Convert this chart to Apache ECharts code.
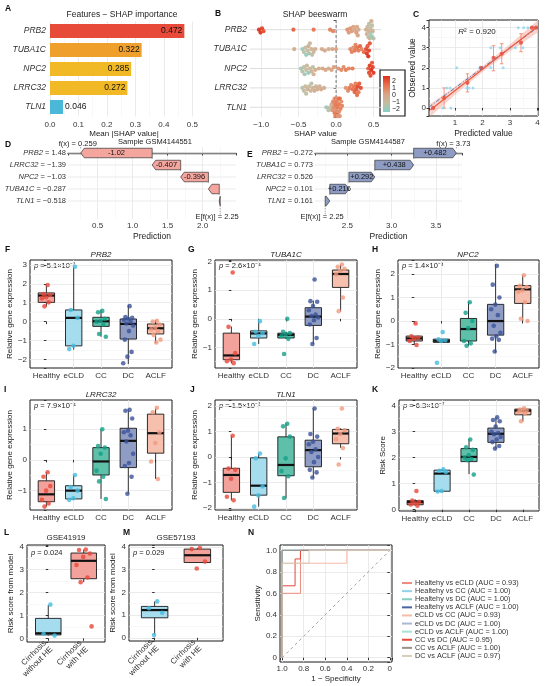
<!DOCTYPE html>
<html>
<head>
<meta charset="utf-8">
<script src="https://cdn.jsdelivr.net/npm/echarts@6/dist/echarts.min.js"></script>
<style>
  html, body { margin: 0; padding: 0; background: #fff; }
  #main { width: 550px; height: 686px; }
</style>
</head>
<body>
<div id="main"></div>
<script>
var FONT = 'Liberation Sans, Arial, sans-serif';

// ---- A: mean |SHAP|
var featureNames = ['PRB2', 'TUBA1C', 'NPC2', 'LRRC32', 'TLN1'];
var meanShap = [0.472, 0.322, 0.285, 0.272, 0.046];
var barColors = ['#e84a39', '#efa02c', '#f1b926', '#f1b926', '#4ab8d6'];

// ---- B: beeswarm (shap value, scaled feature value) per feature row
var swarmShap = [
  [-1.03, -1.01, -0.99, -0.97, -0.57, -0.30, -0.08, -0.04, 0.15, 0.17, 0.19, 0.21, 0.23, 0.25, 0.27, 0.28, 0.29, 0.30, 0.40, 0.41, 0.42, 0.43, 0.44, 0.44, 0.45, 0.46, 0.46, 0.47, 0.48, 0.48, 0.49, 0.50],
  [-0.56, -0.45, -0.43, -0.41, -0.40, -0.38, -0.37, -0.36, -0.35, -0.33, -0.32, -0.30, -0.28, -0.19, -0.15, -0.10, -0.05, 0.00, 0.19, 0.21, 0.23, 0.25, 0.26, 0.28, 0.30, 0.32, 0.34, 0.37, 0.40, 0.41, 0.42, 0.43, 0.44, 0.45],
  [-0.47, -0.45, -0.43, -0.42, -0.40, -0.39, -0.37, -0.35, -0.33, -0.31, -0.30, -0.28, -0.23, -0.18, -0.14, -0.10, -0.06, -0.03, 0.03, 0.07, 0.10, 0.13, 0.17, 0.22, 0.43, 0.44, 0.45, 0.46, 0.47, 0.48, 0.49, 0.50],
  [-0.45, -0.43, -0.41, -0.40, -0.38, -0.36, -0.34, -0.33, -0.31, -0.29, -0.27, -0.25, -0.22, -0.20, -0.16, 0.13, 0.16, 0.18, 0.20, 0.22, 0.24, 0.25, 0.26, 0.27, 0.28, 0.29, 0.30, 0.31, 0.33],
  [-0.13, -0.10, -0.08, -0.06, -0.05, -0.04, -0.03, -0.02, -0.02, -0.01, 0.00, 0.00, 0.01, 0.01, 0.02, 0.02, 0.03, 0.03, 0.04, 0.04, 0.05, 0.05, 0.06, 0.07, 0.08, -0.01, 0.00, 0.02]
];
var swarmFeat = [
  [2.2, 1.9, 1.7, 1.5, 1.2, 0.9, 0.7, 0.6, 0.4, 0.2, 0.3, 0.1, 0.0, -0.1, 0.2, -0.2, 0.0, -0.3, -0.4, -0.6, -0.8, -1.0, -0.5, -1.2, -0.7, -0.9, -1.5, -0.3, -1.1, -1.8, -0.6, -1.3],
  [-0.3, -1.6, -1.2, -1.0, -1.8, -0.9, -0.6, -1.4, -0.8, -0.5, -1.1, -0.7, -0.4, -0.3, -0.2, -0.4, -0.1, 0.0, 0.5, 0.7, 0.4, 0.9, 0.6, 1.0, 0.8, 1.2, 0.6, 1.1, 1.6, 1.8, 1.4, 2.0, 1.7, 1.5],
  [-1.7, -1.2, -0.9, -1.4, -1.0, -0.7, -1.8, -0.8, -0.6, -1.1, -0.5, -0.4, -0.3, -0.2, -0.1, -0.3, 0.0, 0.1, 0.3, 0.5, 0.4, 0.7, 0.6, 0.8, 1.3, 1.6, 1.8, 1.5, 2.0, 1.4, 1.7, 1.9],
  [-1.3, -1.0, -0.8, -1.1, -0.6, -0.9, -0.7, -1.2, -0.5, -0.4, -0.6, -0.3, -0.5, -0.2, -0.4, 0.3, 0.5, 0.8, 0.6, 1.0, 0.9, 1.2, 0.7, 1.4, 1.1, 1.6, 0.8, 1.3, 1.5],
  [-1.6, -1.3, -1.0, -0.4, 0.3, 0.6, 0.5, 0.8, 0.2, 0.9, 0.4, 1.0, 0.7, 0.3, 0.8, 1.2, 0.6, 0.1, 0.9, 0.5, 1.1, 0.3, 0.7, 0.4, 0.6, 0.5, 0.8, 0.2]
];
var swarmTicks = ['2', '1', '0', '−1', '−2'];

// ---- C: observed vs predicted
var cPredX = [0.2, 0.55, 0.85, 0.7, 0.82, 1.42, 1.5, 1.65, 1.06, 1.9, 2.0, 2.3, 2.75, 2.3, 2.64, 3.0, 3.2, 3.47, 3.3, 3.5, 3.65, 3.9];
var cObsY  = [0, 0, 0, 1, 1, 1, 1, 1, 2, 2, 2, 2, 2, 3, 3, 3, 3, 3, 4, 4, 4, 4];
var cBinX  = [0.2, 0.6, 1.45, 1.95, 2.4, 2.7, 3.4, 3.8, 3.95];
var cBinY  = [0, 0.5, 1.25, 2.0, 2.5, 2.7, 3.25, 4.0, 4.0];
var cBinLo = [0, 0, 0.8, 2.0, 1.85, 2.2, 2.8, 4.0, 4.0];
var cBinHi = [0, 1.0, 1.7, 2.0, 3.1, 3.2, 3.7, 4.0, 4.0];
var cFitX  = [0.1, 1.0, 2.0, 3.0, 4.0];
var cFitY  = [-0.1, 0.87, 1.93, 3.0, 4.05];
var cBandLo = [-0.42, 0.66, 1.79, 2.83, 3.74];
var cBandHi = [0.2, 1.07, 2.08, 3.17, 4.36];
var cDiag  = [0.05, 4.02];

// ---- D / E: waterfall
var dGenes = ['PRB2', 'LRRC32', 'NPC2', 'TUBA1C', 'TLN1'];
var dFeat = ['1.48', '−1.39', '−1.03', '−0.287', '−0.518'];
var dContrib = [-1.02, -0.407, -0.396, -0.155, -0.013];
var eGenes = ['PRB2', 'TUBA1C', 'LRRC32', 'NPC2', 'TLN1'];
var eFeat = ['−0.272', '0.773', '0.526', '0.101', '0.161'];
var eContrib = [0.482, 0.438, 0.292, 0.216, 0.052];
var baseValue = 2.25;

// ---- F-K: box plots (stats = [min, Q1, median, Q3, max])
var groups = ['Healthy', 'eCLD', 'CC', 'DC', 'ACLF'];
var groupFill = ['#f3a29b', '#a5dcee', '#5fc0aa', '#8f9dc5', '#f6bfae'];
var groupDot = ['#e8473a', '#45bde0', '#12a088', '#3a5397', '#f39b7f'];

var prb2Stats = [[0.8, 1.02, 1.38, 1.52, 1.94], [-1.48, -1.28, 0.2, 0.62, 2.9], [-0.8, -0.25, 0.02, 0.23, 0.63], [-2.24, -0.92, -0.12, 0.14, 0.88], [-1.13, -0.65, -0.35, -0.12, 0.09]];
var prb2Pts = [[1.94, 1.46, 1.41, 1.29, 1.23, 1.02, 0.81], [2.9, 0.62, 0.2, -1.28, -1.45], [0.57, 0.5, 0.15, 0.05, 0.0, -0.15, -0.65, -0.8], [0.82, 0.25, 0.2, 0.15, 0.1, 0.0, -0.1, -0.2, -0.5, -0.95, -1.6, -1.85, -2.2], [0.05, 0.0, -0.15, -0.3, -0.4, -0.5, -0.7, -0.95, -1.1]];

var tuba1cStats = [[-1.55, -1.43, -1.28, -0.5, -0.27], [-0.88, -0.67, -0.51, -0.42, -0.09], [-0.7, -0.67, -0.56, -0.5, -0.45], [-0.88, -0.23, 0.08, 0.39, 0.64], [0.25, 1.1, 1.57, 1.71, 1.9]];
var tuba1cPts = [[1.62, -0.28, -1.2, -1.42, -1.48, -1.55], [-0.08, -0.45, -0.5, -0.6, -0.88], [0.0, -0.45, -0.5, -0.55, -0.6, -0.7, -1.23], [1.38, 0.62, 0.6, 0.45, 0.3, 0.15, 0.1, 0.05, -0.05, -0.2, -0.67, -0.88], [1.9, 1.82, 1.75, 1.68, 1.55, 0.75, 0.27]];

var npc2Stats = [[-1.02, -0.85, -0.74, -0.64, -0.64], [-0.91, -0.91, -0.84, -0.77, -0.77], [-1.05, -0.85, -0.34, 0.11, 0.82], [-1.35, -0.6, 0.0, 0.71, 2.42], [0.0, 0.75, 1.35, 1.51, 1.96]];
var npc2Pts = [[-0.1, -0.65, -0.7, -0.75, -0.85, -1.02], [-0.47, -0.78, -0.82, -0.85, -1.78], [0.8, 0.35, 0.0, -0.3, -0.85, -0.95, -1.05], [2.35, 1.55, 1.0, 0.7, 0.5, 0.25, -0.2, -0.5, -0.65, -0.75, -0.8, -1.3], [1.95, 1.5, 1.45, 1.3, 1.25, 0.8, 0.1, 0.0]];

var lrrc32Stats = [[-1.52, -1.36, -1.12, -0.68, -0.4], [-1.3, -1.27, -1.0, -0.84, -0.49], [-1.27, -0.49, -0.05, 0.4, 1.0], [-1.09, -0.25, 0.62, 1.03, 1.63], [-0.62, 0.22, 0.87, 1.49, 1.68]];
var lrrc32Pts = [[-0.4, -0.55, -0.85, -1.0, -1.3, -1.42, -1.52], [-0.49, -0.88, -1.0, -1.25, -1.3], [1.0, 0.45, 0.4, 0.2, -0.35, -0.55, -0.7, -1.27], [1.63, 1.6, 1.35, 0.95, 0.9, 0.8, 0.6, 0.2, -0.1, -0.2, -0.55, -1.1], [1.7, 1.55, 0.9, 0.55, -0.05, -0.62]];

var tln1Stats = [[-1.69, -1.38, -0.7, -0.44, 0.83], [-1.94, -1.49, -1.12, -0.03, 0.14], [-1.61, -0.73, -0.31, 0.79, 1.32], [-0.81, -0.38, 0.27, 0.66, 1.9], [0.36, 0.52, 0.92, 1.08, 1.12]];
var tln1Pts = [[0.83, -0.45, -0.5, -0.85, -1.55, -1.69], [0.14, -0.05, -1.15, -1.5, -1.94], [1.3, 1.2, 0.8, -0.05, -0.55, -0.75, -1.6], [1.9, 0.9, 0.8, 0.6, 0.5, 0.3, 0.2, 0.0, -0.2, -0.5, -0.6, -0.8], [1.9, 1.1, 1.05, 0.9, 0.7, 0.35, -0.29]];

var riskStats = [[0.15, 0.19, 0.29, 0.35, 0.4], [0.7, 0.71, 1.39, 1.52, 1.55], [1.37, 1.85, 2.03, 2.35, 2.72], [2.34, 2.59, 2.92, 3.14, 3.56], [3.39, 3.65, 3.81, 3.87, 3.92]];
var riskPts = [[0.72, 0.35, 0.3, 0.25, 0.2, 0.15], [1.55, 1.5, 1.45, 0.72, 0.7], [2.7, 2.4, 2.3, 2.1, 2.0, 1.95, 1.9, 1.35], [3.55, 3.45, 3.4, 3.2, 3.0, 2.95, 2.9, 2.8, 2.7, 2.6, 2.45, 2.35], [3.9, 3.85, 3.82, 3.8, 3.75, 3.7, 3.4]];

// ---- L / M: external cohorts
var heGroups = ['Cirrhosis\nwithout HE', 'Cirrhosis\nwith HE'];
var heFill = ['#a5dcee', '#f3a29b'];
var heDot = ['#45bde0', '#e8473a'];
var gse41919Stats = [[0.12, 0.15, 0.22, 0.87, 1.45], [2.45, 2.6, 3.38, 3.72, 3.87]];
var gse41919Pts = [[1.47, 0.2, 0.12], [3.87, 3.85, 3.7, 3.55, 3.2, 2.65, 2.45, 0.52]];
var gse57193Stats = [[0.15, 0.88, 1.22, 1.38, 1.6], [3.31, 3.31, 3.63, 3.9, 3.95]];
var gse57193Pts = [[1.6, 1.3, 1.1, 0.12], [3.95, 3.9, 3.35, 3.05]];

// ---- N: ROC curves, [specificity, sensitivity]
var rocNames = ['Healtehy vs eCLD (AUC = 0.93)', 'Healtehy vs CC (AUC = 1.00)', 'Healtehy vs DC (AUC = 1.00)', 'Healtehy vs ACLF (AUC = 1.00)',
  'eCLD vs CC (AUC = 0.93)', 'eCLD vs DC (AUC = 1.00)', 'eCLD vs ACLF (AUC = 1.00)', 'CC vs DC (AUC = 0.95)', 'CC vs ACLF (AUC = 1.00)', 'DC vs ACLF (AUC = 0.97)'];
var rocColors = ['#ee8a7c', '#8fd3ea', '#86cfc0', '#4b64a8', '#f6bba9', '#a9b7d8', '#a7e2d2', '#e8473a', '#9b8f87', '#d9ccb8'];
var rocPerfect = [[1, 0], [1, 1], [0, 1]];
var rocHvsE = [[1, 0], [1, 0.6], [0.83, 0.6], [0.83, 1], [0, 1]];
var rocEvsC = [[1, 0], [1, 0.88], [0.4, 0.88], [0.4, 1], [0, 1]];
var rocCvsD = [[1, 0], [1, 0.67], [0.88, 0.67], [0.88, 0.92], [0.83, 0.92], [0.83, 1], [0, 1]];
var rocDvsA = [[1, 0], [1, 0.88], [0.75, 0.88], [0.75, 1], [0, 1]];
var rocCurves = [rocHvsE, rocPerfect, rocPerfect, rocPerfect, rocEvsC, rocPerfect, rocPerfect, rocCvsD, rocPerfect, rocDvsA];

// ================= builders =================
var grids = [], xAxes = [], yAxes = [], series = [], graphics = [];
var tickLab = { fontSize: 8, color: '#333', fontFamily: FONT };
var gridLine = { color: '#e6e6e6', width: 0.8 };
var minorLine = { color: '#f3f3f3', width: 0.6 };

function fmtNum(v, d) {
  var s = Math.abs(v).toFixed(d);
  return (v < -1e-9 && Number(s) !== 0 ? '−' : '') + s;
}
function stepFmt(step, d) {
  return function (v) {
    var r = v / step;
    if (Math.abs(r - Math.round(r)) > 1e-6) return '';
    return fmtNum(v, d);
  };
}
function addGrid(left, top, width, height, framed) {
  grids.push({ left: left, top: top, width: width, height: height, show: !!framed,
    borderColor: '#1a1a1a', borderWidth: 1, backgroundColor: framed ? '#fff' : 'transparent' });
  return grids.length - 1;
}
function txt(x, y, s, o) {
  o = o || {};
  graphics.push({ type: 'text', x: x, y: y, silent: true, style: {
    text: s, fill: o.color || '#222', fontSize: o.size || 8, fontFamily: FONT,
    fontWeight: o.bold ? 'bold' : 'normal', fontStyle: o.italic ? 'italic' : 'normal',
    align: o.align || 'center', verticalAlign: 'middle', rich: o.rich } });
}
var richP = { i: { fontStyle: 'italic', fontSize: 7.5, fontFamily: FONT, fill: '#222' } };

// ---------- A ----------
var gA = addGrid(50, 21.5, 148, 95, false);
xAxes.push({ gridIndex: gA, type: 'value', min: 0, max: 0.52, minInterval: 0.1, maxInterval: 0.1,
  axisLine: { show: false }, axisTick: { show: false },
  axisLabel: Object.assign({ margin: 4, formatter: stepFmt(0.1, 1), showMaxLabel: false }, tickLab),
  splitLine: { lineStyle: gridLine, showMaxLine: false }, minorTick: { splitNumber: 2 },
  minorSplitLine: { show: true, lineStyle: minorLine },
  name: 'Mean |SHAP value|', nameLocation: 'middle', nameGap: 11, nameTextStyle: { fontSize: 8, color: '#222' } });
yAxes.push({ gridIndex: gA, type: 'category', data: featureNames, inverse: true,
  axisLine: { show: false }, axisTick: { show: false },
  axisLabel: { fontSize: 8.5, color: '#333', fontStyle: 'italic', margin: 4 }, splitLine: { show: false } });
series.push({ type: 'bar', xAxisIndex: xAxes.length - 1, yAxisIndex: yAxes.length - 1, barWidth: 14,
  data: meanShap.map(function (v, i) {
    return { value: v, itemStyle: { color: barColors[i] },
      label: { show: true, position: v > 0.1 ? 'insideRight' : 'right', distance: 2, fontSize: 8.5, color: '#111',
        formatter: function (p) { return p.value.toFixed(3); } } };
  }) });

// ---------- B ----------
var gB = addGrid(250, 20, 131, 97, false);
var bPx = 131 / 1.75, bRow = 97 / 5;
xAxes.push({ gridIndex: gB, type: 'value', min: -1.15, max: 0.6, minInterval: 0.5, maxInterval: 0.5,
  axisLine: { show: false }, axisTick: { show: false },
  axisLabel: Object.assign({ margin: 4, formatter: stepFmt(0.5, 1) }, tickLab),
  splitLine: { lineStyle: gridLine, showMinLine: false, showMaxLine: false }, minorTick: { splitNumber: 2 },
  minorSplitLine: { show: true, lineStyle: minorLine },
  name: 'SHAP value', nameLocation: 'middle', nameGap: 12, nameTextStyle: { fontSize: 8, color: '#222' } });
yAxes.push({ gridIndex: gB, type: 'value', min: -0.5, max: 4.5, inverse: true, minInterval: 1, maxInterval: 1,
  axisLine: { show: false }, axisTick: { show: true, length: 2.5, lineStyle: { color: '#555' } },
  axisLabel: { fontSize: 8.5, color: '#333', fontStyle: 'italic', margin: 3,
    formatter: function (v) { return (Math.abs(v - Math.round(v)) < 1e-6 && v >= 0 && v <= 4) ? featureNames[Math.round(v)] : ''; } },
  splitLine: { show: false } });
var bx = xAxes.length - 1, by = yAxes.length - 1;
series.push({ type: 'custom', xAxisIndex: bx, yAxisIndex: by, silent: true, data: [0, 1, 2, 3, 4],
  renderItem: function (params, api) {
    var cs = params.coordSys, y = api.coord([0, api.value(0)])[1];
    var ch = [{ type: 'line', shape: { x1: cs.x, y1: y, x2: cs.x + cs.width, y2: y }, style: { stroke: '#d9d9d9', lineWidth: 0.9 } }];
    if (params.dataIndex === 0) {
      var x0 = api.coord([0, 0])[0];
      ch.push({ type: 'line', shape: { x1: x0, y1: cs.y, x2: x0, y2: cs.y + cs.height }, style: { stroke: '#555', lineWidth: 0.8, lineDash: [3, 2] } });
    }
    return { type: 'group', children: ch };
  } });

function swarmOffsets(xs, d) {
  var idx = xs.map(function (v, i) { return i; }).sort(function (a, b) { return xs[a] - xs[b]; });
  var placed = [], off = [];
  idx.forEach(function (i) {
    var x = xs[i] * bPx, best = 0;
    for (var k = 0; k < 40; k++) {
      var o = (k % 2 ? 1 : -1) * Math.ceil(k / 2) * d * 0.45;
      var clash = placed.some(function (p) { var dx = p[0] - x, dy = p[1] - o; return dx * dx + dy * dy < d * d; });
      if (!clash) { best = o; break; }
    }
    placed.push([x, best]); off[i] = best;
  });
  return off;
}
var swarmData = [];
swarmShap.forEach(function (row, r) {
  var off = swarmOffsets(row, 3.2);
  row.forEach(function (v, i) {
    var dy = Math.max(-0.45, Math.min(0.45, off[i] / bRow));
    swarmData.push([v, r + dy, swarmFeat[r][i]]);
  });
});
var swarmSeriesIndex = series.length;
series.push({ type: 'scatter', xAxisIndex: bx, yAxisIndex: by, symbolSize: 4.2, data: swarmData,
  itemStyle: { opacity: 0.95 } });
graphics.push({ type: 'rect', shape: { x: 380, y: 70, width: 25, height: 46 }, style: { fill: '#fff', stroke: '#1a1a1a', lineWidth: 1.2 } });
graphics.push({ type: 'rect', shape: { x: 383, y: 76, width: 7, height: 36 }, style: { fill: {
  type: 'linear', x: 0, y: 0, x2: 0, y2: 1, colorStops: [
    { offset: 0, color: '#de2f1c' }, { offset: 0.25, color: '#e8704a' }, { offset: 0.5, color: '#d9a383' },
    { offset: 0.75, color: '#c4bca2' }, { offset: 1, color: '#86d0c4' }] } } });
swarmTicks.forEach(function (t, i) { txt(392, 80.7 + i * 7.1, t, { size: 7, align: 'left' }); });

// ---------- C ----------
var gC = addGrid(429, 20, 109, 96, true);
xAxes.push({ gridIndex: gC, type: 'value', min: 0.05, max: 4.02, minInterval: 1, maxInterval: 1,
  axisLine: { show: false }, axisTick: { show: true, length: 2.5, lineStyle: { color: '#333' } },
  axisLabel: Object.assign({ margin: 3, formatter: stepFmt(1, 0) }, tickLab),
  splitLine: { lineStyle: gridLine, showMinLine: false, showMaxLine: false }, minorTick: { splitNumber: 2 },
  minorSplitLine: { show: true, lineStyle: minorLine },
  name: 'Predicted value', nameLocation: 'middle', nameGap: 13, nameTextStyle: { fontSize: 8.5, color: '#222' } });
yAxes.push({ gridIndex: gC, type: 'value', min: -0.4, max: 4.38, minInterval: 1, maxInterval: 1,
  axisLine: { show: false }, axisTick: { show: true, length: 2.5, lineStyle: { color: '#333' } },
  axisLabel: Object.assign({ margin: 3, formatter: stepFmt(1, 0) }, tickLab),
  splitLine: { lineStyle: gridLine, showMinLine: false, showMaxLine: false }, minorTick: { splitNumber: 2 },
  minorSplitLine: { show: true, lineStyle: minorLine },
  name: 'Observed value', nameLocation: 'middle', nameGap: 10, nameTextStyle: { fontSize: 8.5, color: '#222' } });
var cx = xAxes.length - 1, cy = yAxes.length - 1;
series.push({ type: 'custom', xAxisIndex: cx, yAxisIndex: cy, silent: true, data: [0],
  renderItem: function (params, api) {
    var pts = [];
    cFitX.forEach(function (x, i) { pts.push(api.coord([x, cBandHi[i]])); });
    for (var i = cFitX.length - 1; i >= 0; i--) pts.push(api.coord([cFitX[i], cBandLo[i]]));
    return { type: 'polygon', shape: { points: pts }, style: { fill: 'rgba(242,140,120,0.38)' } };
  } });
series.push({ type: 'scatter', xAxisIndex: cx, yAxisIndex: cy, symbolSize: 3, itemStyle: { color: '#8fd4ef' },
  data: cPredX.map(function (x, i) { return [x, cObsY[i]]; }) });
series.push({ type: 'line', xAxisIndex: cx, yAxisIndex: cy, symbol: 'none', silent: true,
  lineStyle: { color: '#4a6fb5', width: 0.9, type: [4, 2, 1, 2] }, data: cDiag.map(function (v) { return [v, v]; }) });
series.push({ type: 'line', xAxisIndex: cx, yAxisIndex: cy, symbol: 'none', silent: true,
  lineStyle: { color: '#ea5a40', width: 1.2 }, data: cFitX.map(function (x, i) { return [x, cFitY[i]]; }) });
series.push({ type: 'custom', xAxisIndex: cx, yAxisIndex: cy, silent: true,
  data: cBinX.map(function (x, i) { return [x, cBinLo[i], cBinHi[i]]; }),
  renderItem: function (params, api) {
    var a = api.coord([api.value(0), api.value(1)]), b = api.coord([api.value(0), api.value(2)]);
    var st = { stroke: '#f08a74', lineWidth: 0.9 };
    return { type: 'group', children: [
      { type: 'line', shape: { x1: a[0], y1: a[1], x2: b[0], y2: b[1] }, style: st },
      { type: 'line', shape: { x1: a[0] - 1.8, y1: a[1], x2: a[0] + 1.8, y2: a[1] }, style: st },
      { type: 'line', shape: { x1: b[0] - 1.8, y1: b[1], x2: b[0] + 1.8, y2: b[1] }, style: st }] };
  } });
series.push({ type: 'scatter', xAxisIndex: cx, yAxisIndex: cy, symbolSize: 4.2, itemStyle: { color: '#e8473a' },
  data: cBinX.map(function (x, i) { return [x, cBinY[i]]; }) });
txt(477, 32, '{i|R}² = 0.920', { size: 8, rich: { i: { fontStyle: 'italic', fontSize: 8, fontFamily: FONT, fill: '#222' } } });

// ---------- D / E waterfalls ----------
function waterfall(left, width, xmin, xmax, genes, feats, contrib, fxText, fill, labelSign) {
  var g = addGrid(left, 147, width, 72, false);
  xAxes.push({ gridIndex: g, type: 'value', min: xmin, max: xmax, minInterval: 0.5, maxInterval: 0.5,
    axisLine: { show: true, lineStyle: { color: '#444', width: 1.4 } }, axisTick: { show: true, length: 2.5, lineStyle: { color: '#444' } },
    axisLabel: Object.assign({ margin: 3, formatter: stepFmt(0.5, 1) }, tickLab),
    splitLine: { lineStyle: gridLine, showMinLine: false, showMaxLine: false }, minorTick: { splitNumber: 2 },
    minorSplitLine: { show: true, lineStyle: minorLine },
    name: 'Prediction', nameLocation: 'middle', nameGap: 13, nameTextStyle: { fontSize: 8.5, color: '#222' } });
  yAxes.push({ gridIndex: g, type: 'value', min: -0.5, max: 5.5, inverse: true, minInterval: 1, maxInterval: 1,
    axisLine: { show: false }, axisTick: { show: false }, splitLine: { show: false },
    axisLabel: { margin: 2, formatter: function (v) {
      var i = Math.round(v);
      if (Math.abs(v - i) > 1e-6 || i < 0 || i > 4) return '';
      return '{i|' + genes[i] + '}{n| = ' + feats[i] + '}';
    }, rich: { i: { fontStyle: 'italic', fontSize: 7.5, color: '#333', fontFamily: FONT }, n: { fontSize: 7.5, color: '#333', fontFamily: FONT } } } });
  var xi = xAxes.length - 1, yi = yAxes.length - 1;
  var n = contrib.length, starts = [], ends = [];
  var cur = baseValue;
  for (var k = n - 1; k >= 0; k--) { starts[k] = cur; ends[k] = cur + contrib[k]; cur = ends[k]; }
  series.push({ type: 'custom', xAxisIndex: xi, yAxisIndex: yi, silent: true, data: [0, 1, 2, 3, 4],
    renderItem: function (params, api) {
      var cs = params.coordSys, y = api.coord([xmin, api.value(0)])[1];
      return { type: 'line', shape: { x1: cs.x, y1: y, x2: cs.x + cs.width, y2: y }, style: { stroke: '#e6e6e6', lineWidth: 0.8 } };
    } });
  series.push({ type: 'custom', xAxisIndex: xi, yAxisIndex: yi, silent: true,
    data: contrib.map(function (c, k) { return [k, starts[k], ends[k]]; }),
    renderItem: function (params, api) {
      var k = api.value(0), s = api.value(1), e = api.value(2);
      var ps = api.coord([s, k]), pe = api.coord([e, k]);
      var h = 9.5, y = ps[1], dir = e >= s ? 1 : -1;
      var tip = Math.min(3.5, Math.abs(pe[0] - ps[0]));
      var pts = [[ps[0], y - h / 2], [pe[0] - dir * tip, y - h / 2], [pe[0], y], [pe[0] - dir * tip, y + h / 2], [ps[0], y + h / 2]];
      var dot = { stroke: '#555', lineWidth: 0.7, lineDash: [1, 1.5] };
      var nextY = api.coord([s, k === n - 1 ? 5.1 : k + 1])[1];
      var ch = [
        { type: 'line', shape: { x1: ps[0], y1: y + h / 2, x2: ps[0], y2: nextY - (k === n - 1 ? 0 : h / 2) }, style: dot },
        { type: 'polygon', shape: { points: pts }, style: { fill: fill, stroke: '#333', lineWidth: 0.7 } }];
      if (k === 0) {
        var topY = api.coord([e, -0.55])[1];
        ch.push({ type: 'line', shape: { x1: pe[0], y1: y - h / 2, x2: pe[0], y2: topY }, style: dot });
      }
      var c = contrib[params.dataIndex];
      if (Math.abs(c) >= 0.2) {
        ch.push({ type: 'text', style: { text: (labelSign && c > 0 ? '+' : '') + c, x: (ps[0] + pe[0]) / 2, y: y,
          align: 'center', verticalAlign: 'middle', fontSize: 7.5, fill: '#111', fontFamily: FONT } });
      }
      return { type: 'group', children: ch };
    } });
  series.push({ type: 'custom', xAxisIndex: xi, yAxisIndex: yi, silent: true,
    data: [[ends[0], -0.72], [baseValue, 5.3]],
    renderItem: function (params, api) {
      var p = api.coord([api.value(0), api.value(1)]);
      var t = params.dataIndex === 0 ? fxText : 'E[f(x)] = ' + baseValue;
      return { type: 'text', style: { text: t, x: p[0] - 3, y: p[1], align: 'center', verticalAlign: 'middle',
        fontSize: 7.5, fill: '#222', fontFamily: FONT } };
    } });
}
waterfall(68, 168, 0.077, 2.476, dGenes, dFeat, dContrib, 'f(x) = 0.259', '#f4a69e', false);
waterfall(315, 147, 2.135, 3.794, eGenes, eFeat, eContrib, 'f(x) = 3.73', '#8e9cc4', true);

// ---------- box plot panels ----------
function renderBox(params, api) {
  var i = api.value(0), bw = api.value(6);
  var p = [1, 2, 3, 4, 5].map(function (k) { return api.coord([i, api.value(k)]); });
  var half = api.size([bw, 0])[0] / 2, x = p[0][0];
  var st = { stroke: '#1a1a1a', lineWidth: 0.9 };
  return { type: 'group', children: [
    { type: 'line', shape: { x1: x, y1: p[0][1], x2: x, y2: p[1][1] }, style: st },
    { type: 'line', shape: { x1: x, y1: p[3][1], x2: x, y2: p[4][1] }, style: st },
    { type: 'rect', shape: { x: x - half, y: p[3][1], width: 2 * half, height: p[1][1] - p[3][1] },
      style: { fill: api.visual('color'), stroke: '#1a1a1a', lineWidth: 0.9 } },
    { type: 'line', shape: { x1: x - half, y1: p[2][1], x2: x + half, y2: p[2][1] }, style: { stroke: '#111', lineWidth: 2.2 } }] };
}
function boxPanel(cfg) {
  var g = addGrid(cfg.rect[0], cfg.rect[1], cfg.rect[2], cfg.rect[3], true);
  var n = cfg.cats.length;
  xAxes.push({ gridIndex: g, type: 'value', min: -0.6, max: n - 0.4, minInterval: 1, maxInterval: 1,
    axisLine: { show: false },
    axisTick: { show: true, length: 2.5, lineStyle: { color: '#333' }, customValues: cfg.cats.map(function (c, i) { return i; }) },
    axisLabel: Object.assign({ margin: 3, rotate: cfg.rotate || 0, lineHeight: 9,
      customValues: cfg.cats.map(function (c, i) { return i; }),
      formatter: function (v) { var i = Math.round(v); return (Math.abs(v - i) < 1e-6 && i >= 0 && i < n) ? cfg.cats[i] : ''; } }, tickLab),
    splitLine: { lineStyle: gridLine, showMinLine: false, showMaxLine: false } });
  yAxes.push({ gridIndex: g, type: 'value', min: cfg.y[0], max: cfg.y[1], minInterval: 1, maxInterval: 1,
    axisLine: { show: false }, axisTick: { show: true, length: 2.5, lineStyle: { color: '#333' } },
    axisLabel: Object.assign({ margin: 3, formatter: stepFmt(1, 0) }, tickLab),
    splitLine: { lineStyle: gridLine, showMinLine: false, showMaxLine: false }, minorTick: { splitNumber: 2 },
    minorSplitLine: { show: true, lineStyle: minorLine },
    name: cfg.yName, nameLocation: 'middle', nameGap: cfg.nameGap || 12, nameTextStyle: { fontSize: 8, color: '#222' } });
  var xi = xAxes.length - 1, yi = yAxes.length - 1;
  series.push({ type: 'custom', xAxisIndex: xi, yAxisIndex: yi, silent: true, renderItem: renderBox,
    data: cfg.stats.map(function (s, i) { return { value: [i].concat(s).concat([cfg.boxW]), itemStyle: { color: cfg.fill[i] } }; }) });
  var pts = [];
  cfg.pts.forEach(function (arr, i) {
    arr.forEach(function (v, k) {
      var j = (((k + 1) * 0.618034) % 1 - 0.5) * 2 * cfg.jit;
      pts.push({ value: [i + j, v], itemStyle: { color: cfg.dot[i] } });
    });
  });
  series.push({ type: 'scatter', xAxisIndex: xi, yAxisIndex: yi, symbolSize: 4.6, data: pts });
}
var relName = 'Relative gene expression';
boxPanel({ rect: [30, 260, 142, 108], y: [-2.45, 3.26], cats: groups, stats: prb2Stats, pts: prb2Pts, fill: groupFill, dot: groupDot, boxW: 0.6, jit: 0.2, yName: relName });
boxPanel({ rect: [215, 260, 142, 108], y: [-1.72, 2.06], cats: groups, stats: tuba1cStats, pts: tuba1cPts, fill: groupFill, dot: groupDot, boxW: 0.6, jit: 0.2, yName: relName });
boxPanel({ rect: [398, 260, 141, 108], y: [-2.0, 2.6], cats: groups, stats: npc2Stats, pts: npc2Pts, fill: groupFill, dot: groupDot, boxW: 0.6, jit: 0.2, yName: relName });
boxPanel({ rect: [30, 400, 142, 110], y: [-1.63, 1.95], cats: groups, stats: lrrc32Stats, pts: lrrc32Pts, fill: groupFill, dot: groupDot, boxW: 0.6, jit: 0.2, yName: relName });
boxPanel({ rect: [215, 400, 142, 110], y: [-2.07, 2.23], cats: groups, stats: tln1Stats, pts: tln1Pts, fill: groupFill, dot: groupDot, boxW: 0.6, jit: 0.2, yName: relName });
boxPanel({ rect: [399, 400, 140, 111], y: [-0.05, 4.22], cats: groups, stats: riskStats, pts: riskPts, fill: groupFill, dot: groupDot, boxW: 0.6, jit: 0.2, yName: 'Risk Score' });
boxPanel({ rect: [27, 545, 78, 97], y: [-0.16, 4.07], cats: heGroups, stats: gse41919Stats, pts: gse41919Pts, fill: heFill, dot: heDot, boxW: 0.72, jit: 0.25, yName: 'Risk score from model', rotate: 45 });
boxPanel({ rect: [129, 545, 94, 96], y: [-0.14, 4.08], cats: heGroups, stats: gse57193Stats, pts: gse57193Pts, fill: heFill, dot: heDot, boxW: 0.62, jit: 0.25, yName: 'Risk score from model', rotate: 45 });

// ---------- N: ROC ----------
var gN = addGrid(280, 545, 112, 117, true);
function rocFmt(v) { var r = v / 0.2; if (Math.abs(r - Math.round(r)) > 1e-6) return ''; return Math.abs(v) < 1e-9 ? '0' : v.toFixed(1); }
xAxes.push({ gridIndex: gN, type: 'value', min: -0.02, max: 1.02, inverse: true, minInterval: 0.2, maxInterval: 0.2,
  axisLine: { show: false }, axisTick: { show: true, length: 2.5, lineStyle: { color: '#333' } },
  axisLabel: Object.assign({ margin: 3, formatter: rocFmt }, tickLab),
  splitLine: { lineStyle: gridLine, showMinLine: false, showMaxLine: false },
  name: '1 − Specificity', nameLocation: 'middle', nameGap: 13, nameTextStyle: { fontSize: 8, color: '#222' } });
yAxes.push({ gridIndex: gN, type: 'value', min: -0.04, max: 1.05, minInterval: 0.2, maxInterval: 0.2,
  axisLine: { show: false }, axisTick: { show: true, length: 2.5, lineStyle: { color: '#333' } },
  axisLabel: Object.assign({ margin: 3, formatter: rocFmt }, tickLab),
  splitLine: { lineStyle: gridLine, showMinLine: false, showMaxLine: false },
  name: 'Sensitivity', nameLocation: 'middle', nameGap: 16, nameTextStyle: { fontSize: 8, color: '#222' } });
var nx = xAxes.length - 1, ny = yAxes.length - 1;
series.push({ type: 'line', xAxisIndex: nx, yAxisIndex: ny, symbol: 'none', silent: true,
  lineStyle: { color: '#9a9a9a', width: 0.9, type: [3, 3] }, data: [[1, 0], [0, 1]] });
rocCurves.forEach(function (c, i) {
  series.push({ type: 'line', name: rocNames[i], xAxisIndex: nx, yAxisIndex: ny, symbol: 'none',
    color: rocColors[i], lineStyle: { color: rocColors[i], width: 1 }, data: c });
});

// ---------- texts ----------
[['A', 5, 9], ['B', 215, 14], ['C', 413, 15], ['D', 5, 145], ['E', 247, 155], ['F', 5, 250], ['G', 188, 250], ['H', 372, 250],
 ['I', 4, 390], ['J', 190, 390], ['K', 372, 390], ['L', 4, 533], ['M', 123, 533], ['N', 248, 533]].forEach(function (l) {
  txt(l[1], l[2], l[0], { bold: true, size: 8.5, align: 'left', color: '#111' });
});
txt(122, 15, 'Features − SHAP importance', { size: 8.5 });
txt(315, 15, 'SHAP beeswarm', { size: 8.5 });
txt(155, 142, 'Sample GSM4144551', { size: 7.5 });
txt(368, 142, 'Sample GSM4144587', { size: 7.5 });
txt(101, 255, 'PRB2', { italic: true, size: 8 });
txt(286, 255, 'TUBA1C', { italic: true, size: 8 });
txt(468, 255, 'NPC2', { italic: true, size: 8 });
txt(101, 395, 'LRRC32', { italic: true, size: 8 });
txt(286, 395, 'TLN1', { italic: true, size: 8 });
txt(66, 538, 'GSE41919', { size: 8 });
txt(176, 538, 'GSE57193', { size: 8 });
[[34, 266, '5.1×10⁻²'], [219, 266, '2.6×10⁻⁴'], [402, 266, '1.4×10⁻³'], [34, 406, '7.9×10⁻⁴'], [219, 406, '1.5×10⁻²'], [403, 406, '6.3×10⁻⁷'],
 [31, 553, '0.024'], [133, 553, '0.029']].forEach(function (p) {
  txt(p[0], p[1], '{i|p} = ' + p[2], { size: 7.5, align: 'left', rich: richP });
});

var option = {
  animation: false,
  backgroundColor: '#fff',
  textStyle: { fontFamily: FONT },
  grid: grids,
  xAxis: xAxes,
  yAxis: yAxes,
  visualMap: [{ show: false, type: 'continuous', seriesIndex: swarmSeriesIndex, dimension: 2, min: -2, max: 2,
    inRange: { color: ['#86d0c4', '#c4bca2', '#d9a383', '#e8704a', '#de2f1c'] } }],
  legend: { data: rocNames, orient: 'vertical', left: 402, top: 579, padding: 0, itemGap: 0,
    itemWidth: 10, itemHeight: 2, icon: 'rect', selectedMode: false,
    textStyle: { fontSize: 7.3, color: '#333', lineHeight: 8.1, fontFamily: FONT, padding: [0, 0, 0, -2] } },
  graphic: graphics,
  series: series
};
var chart = echarts.init(document.getElementById('main'));
chart.setOption(option);
</script>
</body>
</html>
